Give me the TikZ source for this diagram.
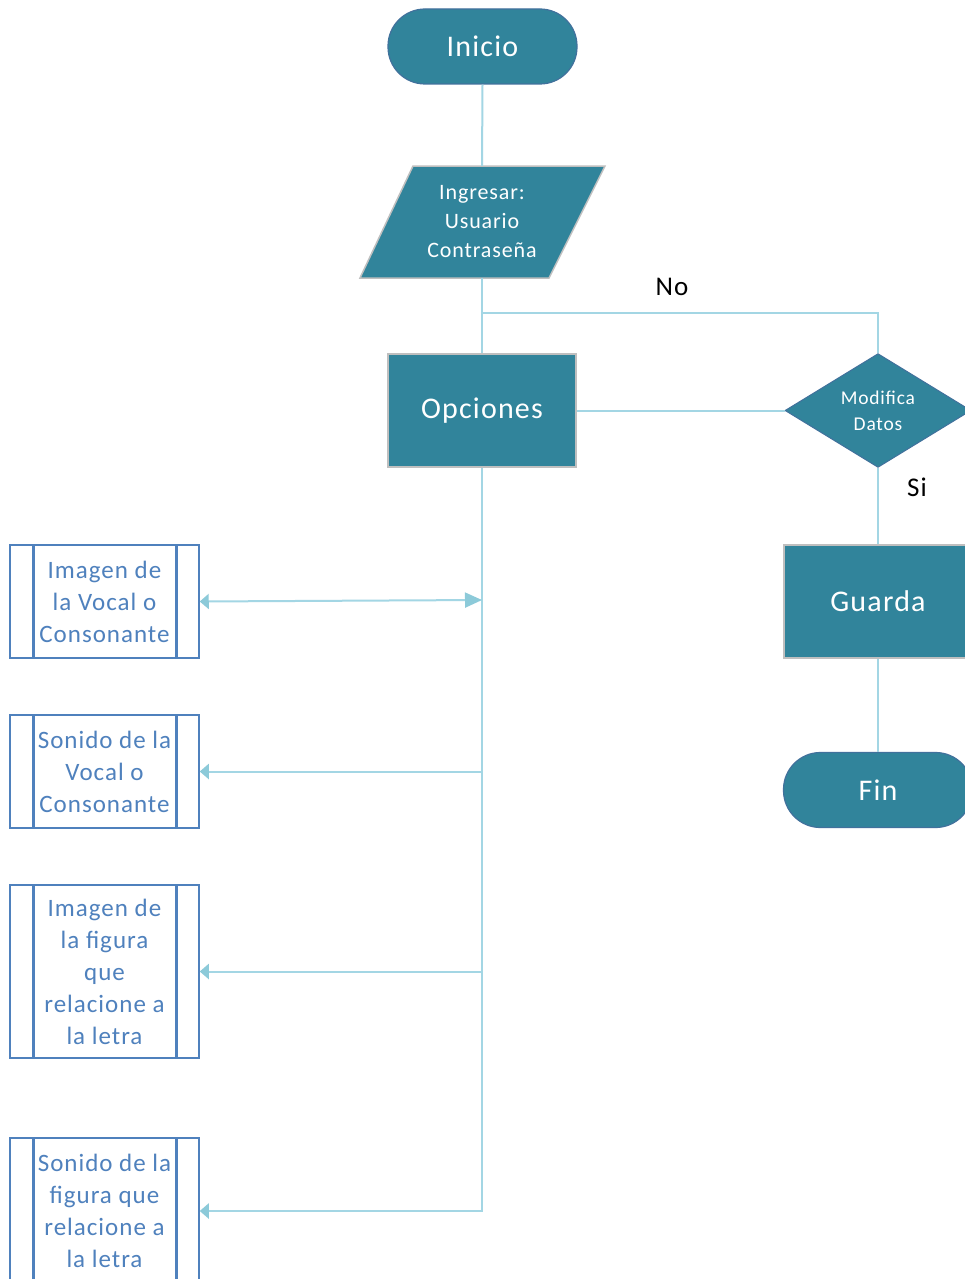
\documentclass[tikz,border=0pt]{standalone}
\usepackage{fontspec}
\setmainfont[LetterSpace=4]{Carlito}
\usetikzlibrary{shapes.geometric,arrows.meta,calc}

\definecolor{tealfill}{HTML}{31849B}
\definecolor{termborder}{HTML}{41719C}
\definecolor{grayborder}{HTML}{BFBFBF}
\definecolor{subblue}{HTML}{4F81BD}
\definecolor{connblue}{HTML}{A3D6E4}
\definecolor{tipblue}{HTML}{8CCAD9}

\tikzset{
  x={(1pt,0)}, y={(0,-1pt)},
  terminal/.style={rectangle, rounded corners=37pt, fill=tealfill, draw=termborder,
    line width=1.2pt, minimum width=189pt, minimum height=75pt, text=white,
    font=\fontsize{30}{36}\selectfont},
  process/.style={rectangle, fill=tealfill, draw=grayborder, line width=1.5pt,
    minimum width=188pt, minimum height=113pt, text=white,
    font=\fontsize{30}{36}\selectfont},
  decision/.style={diamond, fill=tealfill, draw=termborder, line width=1pt,
    minimum width=186pt, minimum height=113pt, inner sep=0pt, text=white,
    align=center, font=\fontsize{19.5}{26}\selectfont},
  iotext/.style={rectangle, minimum width=188pt, minimum height=112pt, text=white,
    align=center, font=\fontsize{22}{29}\selectfont},
  subproc/.style={rectangle, draw=subblue, line width=1.5pt, minimum width=189pt,
    text=subblue, align=center, font=\fontsize{25}{32}\selectfont,
    path picture={
      \draw[subblue, line width=3pt]
        ([xshift=23pt]path picture bounding box.north west) --
        ([xshift=23pt]path picture bounding box.south west)
        ([xshift=-23pt]path picture bounding box.north east) --
        ([xshift=-23pt]path picture bounding box.south east);
    }},
  conn/.style={draw=connblue, line width=2pt},
  tipleft/.style={-{Triangle[length=9pt,width=15pt,color=tipblue]}},
  label/.style={text=black, font=\fontsize{27}{32}\selectfont},
}

\begin{document}
\begin{tikzpicture}
  \useasboundingbox (0,0) rectangle (965,1279);
  \fill[white] (0,0) rectangle (965,1279);
  \clip (0,0) rectangle (965,1279);

  % main column
  \node[terminal] (ini) at (482.5,46.5) {Inicio};
  \fill[tealfill, draw=grayborder, line width=1.5pt]
    (413,166) -- (605,166) -- (549,278) -- (360,278) -- cycle;
  \node[iotext] (in) at (482,222) {Ingresar:\\Usuario\\Contraseña};
  \node[process] (op) at (482,410.5) {Opciones};

  % right column
  \node[decision] (dia) at (878,410.5) {Modifica\\Datos};
  \node[process] (gu) at (878,601.5) {Guarda};
  \node[terminal] (fin) at (878,790) {Fin};

  % sub-processes
  \node[subproc, minimum height=113pt] (s1) at (104.5,601.5) {Imagen de\\la Vocal o\\Consonante};
  \node[subproc, minimum height=113pt] (s2) at (104.5,771.5) {Sonido de la\\Vocal o\\Consonante};
  \node[subproc, minimum height=173pt] (s3) at (104.5,971.5) {Imagen de\\la figura\\que\\relacione a\\la letra};
  \node[subproc, minimum height=146pt] (s4) at (104.5,1211) {Sonido de la\\figura que\\relacione a\\la letra};

  % junctions
  \coordinate (j0) at (482,313);
  \coordinate (j1) at (482,600);

  % connectors
  \draw[conn] (ini.south) -- (in.north);
  \draw[conn] (in.south) -- (op.north);
  \draw[conn] (j0) -| (dia.north);
  \draw[conn] (op.east) -- (dia.west);
  \draw[conn] (dia.south) -- (gu.north);
  \draw[conn] (gu.south) -- (fin.north);

  \draw[conn, tipleft] (op.south) |- (s4.east);
  \draw[conn, tipleft] (op.south |- s3.east) -- (s3.east);
  \draw[conn, tipleft] (op.south |- s2.east) -- (s2.east);
  \draw[conn, {Triangle[length=9pt,width=15pt,color=tipblue]}-{Triangle[length=17pt,width=15pt,color=tipblue]}]
    (s1.east) -- (j1);

  % branch labels
  \node[label] (no) at (672,287) {No};
  \node[label] (si) at (917,487) {Si};
\end{tikzpicture}
\end{document}
